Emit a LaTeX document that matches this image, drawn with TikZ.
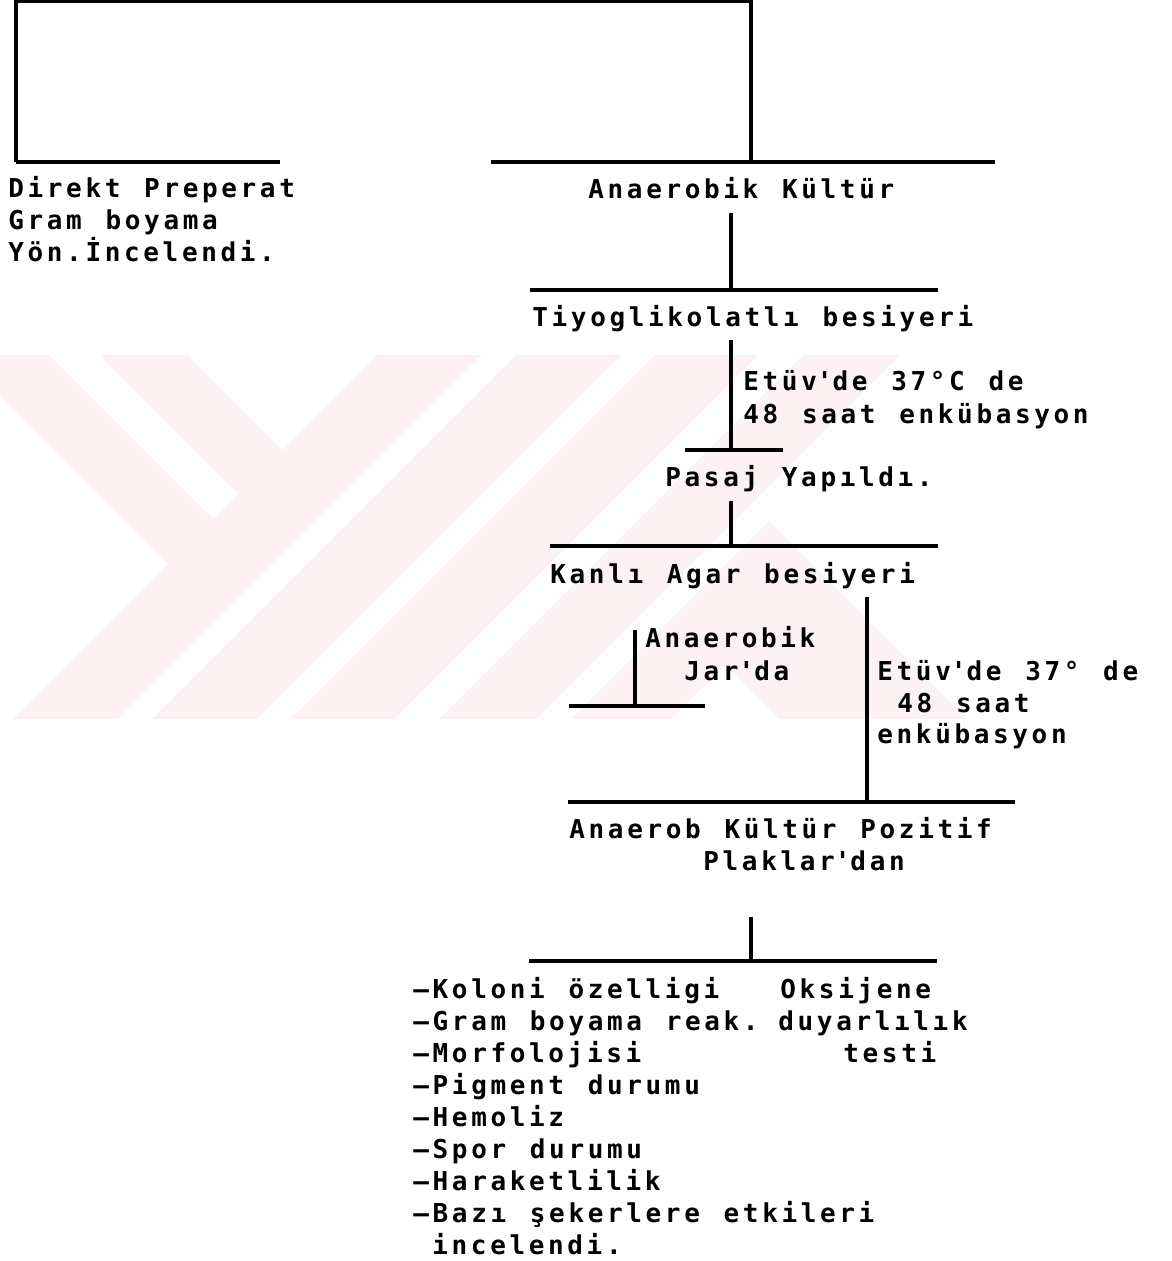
\documentclass[tikz,border=0pt]{standalone}
\usepackage{fontspec}
\newfontfamily\dotfont{DejaVu Sans Mono}[LetterSpace=14, WordSpace=1.23]
\usepackage{tikz}
\usetikzlibrary{positioning}
\definecolor{wmark}{RGB}{253,241,243}

\begin{document}
\begin{tikzpicture}[
    x=0.5pt, y=-0.5pt,
    txt/.style={anchor=base west, inner sep=0pt, font=\dotfont\bfseries\fontsize{13}{16}\selectfont},
    link/.style={line width=1.6pt},
    band/.style={fill=wmark, draw=none}
  ]
  \useasboundingbox (0,0) rectangle (1171,1261);

  % faint watermark behind the chart
  \begin{scope}
    \clip (0,356) rectangle (1171,718);
    \fill[band] (-97,300) -- (167.5,564.5) -- (282,450) -- (132,300) -- cycle;
    \fill[white] (-6,300) -- (213,519) -- (238,494) -- (44,300) -- cycle;
    \foreach \a/\b in {732/837, 871/976, 1010/1113, 1158/1255}
      \fill[band] (\a-300,300) -- (\b-300,300) -- (\b-800,800) -- (\a-800,800) -- cycle;
    \fill[band] (769,521) -- (1048,800) -- (860,800) -- (725,665) -- (590,800) -- (490,800) -- cycle;
  \end{scope}

  % junction points
  \coordinate (root-l) at (16,1);
  \coordinate (root-r) at (751,1);
  \coordinate (dp-j) at (16,162);
  \coordinate (dp-e) at (280,162);
  \coordinate (ak-j) at (751,162);
  \coordinate (ak-w) at (491,162);
  \coordinate (ak-e) at (995,162);
  \coordinate (ak-d) at (731,213);
  \coordinate (tg-j) at (731,290);
  \coordinate (tg-w) at (530,290);
  \coordinate (tg-e) at (938,290);
  \coordinate (tg-d) at (731,340);
  \coordinate (ps-j) at (731,450);
  \coordinate (ps-w) at (685,450);
  \coordinate (ps-e) at (783,450);
  \coordinate (ps-d) at (731,501);
  \coordinate (ka-j) at (731,546);
  \coordinate (ka-w) at (550,546);
  \coordinate (ka-e) at (938,546);
  \coordinate (ka-d) at (867,597);
  \coordinate (ap-j) at (867,802);
  \coordinate (ap-w) at (568,802);
  \coordinate (ap-e) at (1015,802);
  \coordinate (jr-d) at (635,630);
  \coordinate (jr-j) at (635,706);
  \coordinate (jr-w) at (569,706);
  \coordinate (jr-e) at (705,706);
  \coordinate (pl-d) at (751,917);
  \coordinate (li-j) at (751,961);
  \coordinate (li-w) at (529,961);
  \coordinate (li-e) at (937,961);

  % texts
  \node[txt] (dp1) at (8,198) {Direkt Preperat};
  \node[txt] (dp2) at (8,230) {Gram boyama};
  \node[txt] (dp3) at (8,262) {Yön.İncelendi.};
  \node[txt] (ak) at (588,199) {Anaerobik Kültür};
  \node[txt] (tg) at (532,327) {Tiyoglikolatlı besiyeri};
  \node[txt] (et1) at (743,391) {Etüv\textquotesingle de 37°C de};
  \node[txt] (et2) at (743,423) {48 saat enkübasyon};
  \node[txt] (ps) at (665,486) {Pasaj Yapıldı.};
  \node[txt] (ka) at (550,583) {Kanlı Agar besiyeri};
  \node[txt] (jr1) at (645,647) {Anaerobik};
  \node[txt] (jr2) at (684,680) {Jar\textquotesingle da};
  \node[txt] (ev1) at (877,680) {Etüv\textquotesingle de 37° de};
  \node[txt] (ev2) at (897,712) {48 saat};
  \node[txt] (ev3) at (877,743) {enkübasyon};
  \node[txt] (ap1) at (569,838) {Anaerob Kültür Pozitif};
  \node[txt] (ap2) at (703,870) {Plaklar\textquotesingle dan};
  \foreach \x/\t [count=\i from 0] in {413/–Koloni özelligi, 413/–Gram boyama reak., 413/–Morfolojisi,
      413/–Pigment durumu, 413/–Hemoliz, 413/–Spor durumu, 413/–Haraketlilik,
      413/–Bazı şekerlere etkileri, 432/incelendi.}
    \node[txt] (li\i) at (\x,998+32*\i) {\t};
  \node[txt] (ox1) at (780,998) {Oksijene};
  \node[txt] (ox2) at (778,1030) {duyarlılık};
  \node[txt] (ox3) at (843,1062) {testi};

  % connectors
  \draw[link] (dp-j) -- (root-l) -- (root-r) -- (ak-j);
  \draw[link] (dp-j) -- (dp-e);
  \draw[link] (ak-w) -- (ak-e);
  \draw[link] (ak-d) -- (tg-j);
  \draw[link] (tg-w) -- (tg-e);
  \draw[link] (tg-d) -- (ps-j);
  \draw[link] (ps-w) -- (ps-e);
  \draw[link] (ps-d) -- (ka-j);
  \draw[link] (ka-w) -- (ka-e);
  \draw[link] (ka-d) -- (ap-j);
  \draw[link] (ap-w) -- (ap-e);
  \draw[link] (jr-d) -- (jr-j);
  \draw[link] (jr-w) -- (jr-e);
  \draw[link] (pl-d) -- (li-j);
  \draw[link] (li-w) -- (li-e);
\end{tikzpicture}
\end{document}
